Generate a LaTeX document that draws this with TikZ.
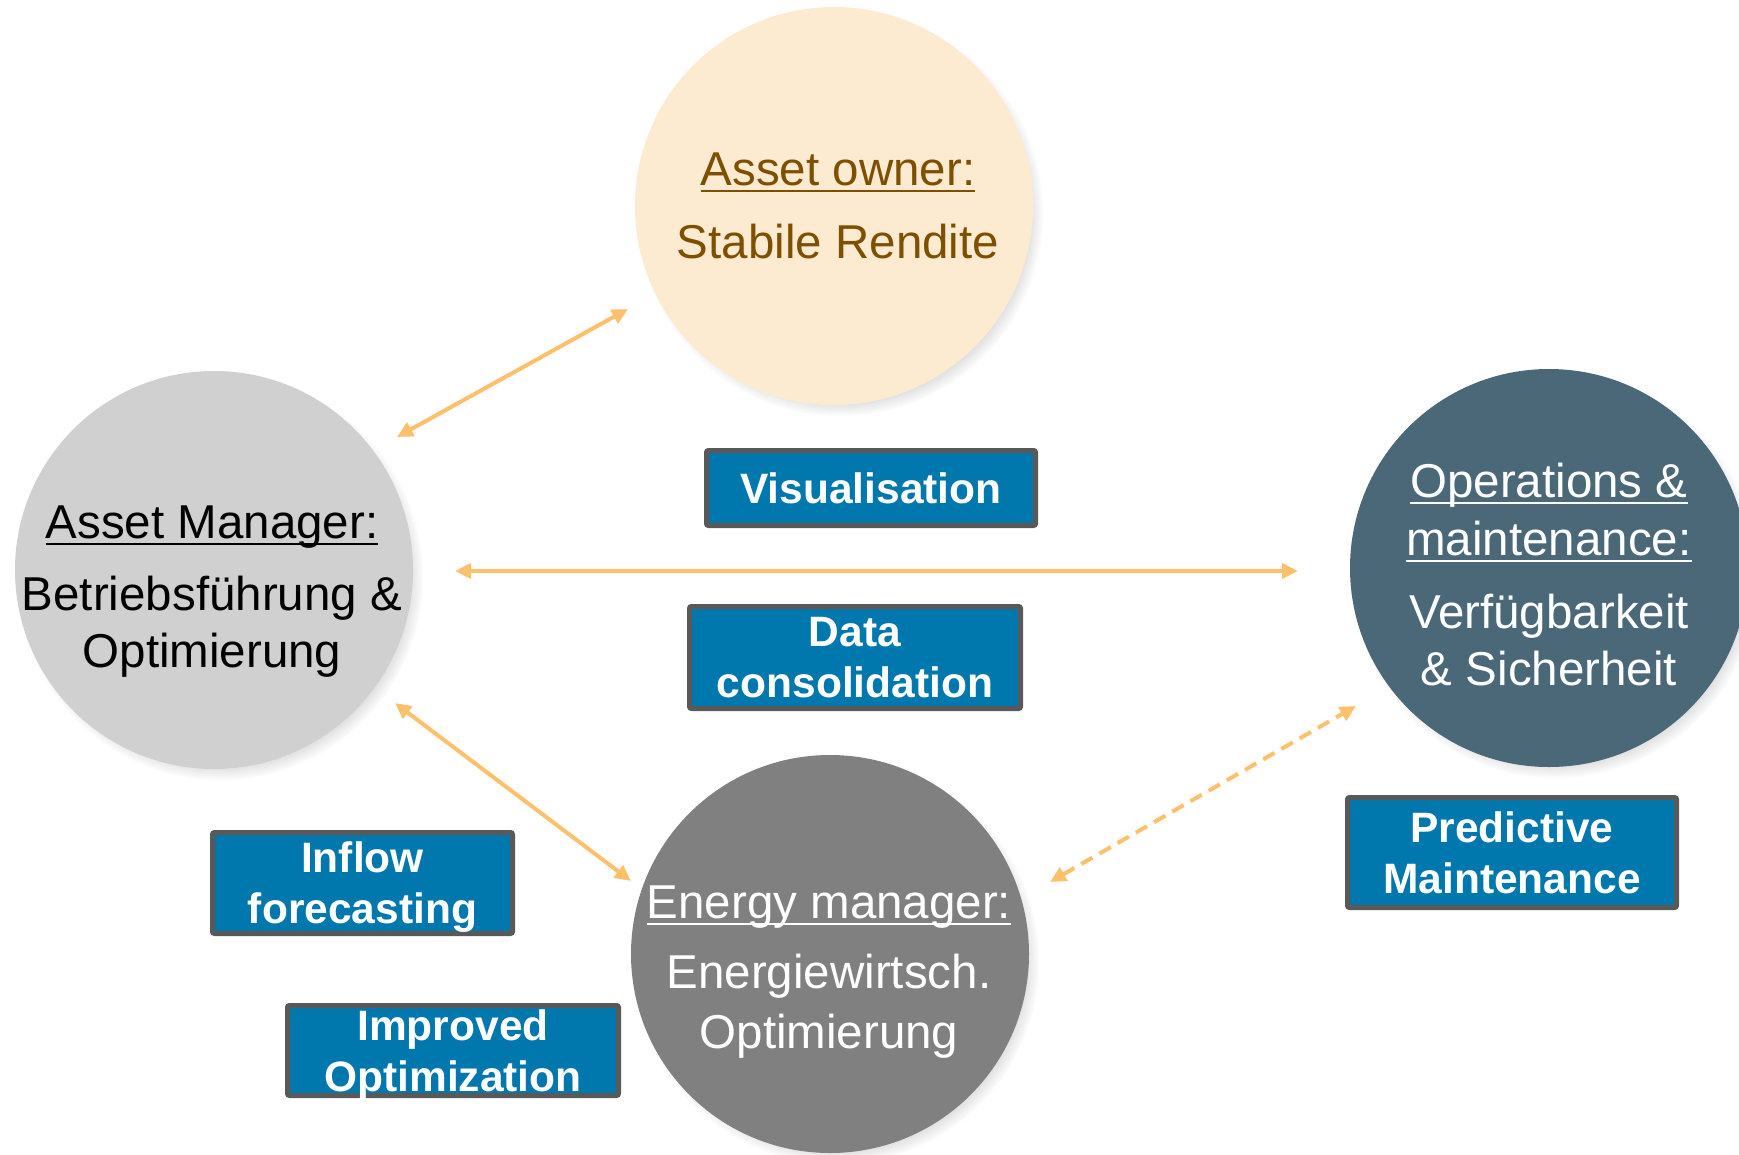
\documentclass[tikz,border=0pt]{standalone}
\usepackage{fontspec}
\setmainfont{Liberation Sans}
\usetikzlibrary{arrows.meta,shadows,calc}

\definecolor{ownerfill}{HTML}{FDEBD1}
\definecolor{ownertext}{HTML}{7F4F00}
\definecolor{mgrfill}{HTML}{D0D0D0}
\definecolor{omfill}{HTML}{4B6878}
\definecolor{emfill}{HTML}{808080}
\definecolor{boxfill}{HTML}{0077AD}
\definecolor{boxline}{HTML}{595959}
\definecolor{linkc}{HTML}{FFC06B}

% underlined role heading: the rule runs through the descenders
\newcommand\rolehead[1]{\setbox0\hbox{#1}\rlap{\rule[-7pt]{\wd0}{2.5pt}}\box0}

\begin{document}
\begin{tikzpicture}[x=1pt,y=-1pt,
  role/.style={circle, inner sep=0pt, minimum size=398pt,
    circular drop shadow={shadow scale=1.02, shadow xshift=6pt, shadow yshift=-7pt, opacity=0.5}},
  roletext/.style={anchor=base, inner sep=0pt, font=\fontsize{47.5}{57}\selectfont},
  tool/.style={draw=boxline, line width=5pt, fill=boxfill, rounded corners=2pt,
    text=white, font=\fontsize{42.5}{51}\selectfont\bfseries, align=center,
    inner sep=0pt, text depth=0pt},
  relation/.style={draw=linkc, line width=4pt,
    {Triangle[length=16pt,width=15pt]}-{Triangle[length=16pt,width=15pt]}},
]
\useasboundingbox (0,0) rectangle (1739,1154);
\fill[white] (0,0) rectangle (1739,1154);

% roles
\node[role, fill=ownerfill] (ao) at (834,206) {};
\node[role, fill=mgrfill]   (am) at (214,570) {};
\node[role, fill=omfill]    (om) at (1549,568) {};
\node[role, fill=emfill]    (em) at (830,954) {};

\node[roletext, text=ownertext] (ao-h) at (838,185) {\rolehead{Asset owner:}};
\node[roletext, text=ownertext] (ao-b) at (838,258) {Stabile Rendite};

\node[roletext, text=black] (am-h)  at (212,538) {\rolehead{Asset Manager:}};
\node[roletext, text=black] (am-b1) at (212,610) {Betriebsführung \&};
\node[roletext, text=black] (am-b2) at (212,667) {Optimierung};

\node[roletext, text=white] (om-h1) at (1549,497) {\rolehead{Operations \&}};
\node[roletext, text=white] (om-h2) at (1549,555) {\rolehead{maintenance:}};
\node[roletext, text=white] (om-b1) at (1549,628) {Verfügbarkeit};
\node[roletext, text=white] (om-b2) at (1549,685) {\& Sicherheit};

\node[roletext, text=white] (em-h)  at (829,918) {\rolehead{Energy manager:}};
\node[roletext, text=white] (em-b1) at (829,988) {Energiewirtsch.};
\node[roletext, text=white] (em-b2) at (829,1048) {Optimierung};

% relations between roles
\draw[relation] ($(am)+(183,-133)$) -- ($(ao)+(-206,103)$);
\draw[relation] ($(am)+(241,1)$) -- ($(om)+(-251,3)$);
\draw[relation] ($(am)+(181,133)$) -- ($(em)+(-199,-73)$);
\draw[relation, dash pattern=on 13pt off 8pt] ($(em)+(220,-72)$) -- ($(om)+(-193,138)$);

% tools
\node[tool, minimum width=329pt, minimum height=75pt]  (vis)  at (871,488)    {Visualisation};
\node[tool, minimum width=331pt, minimum height=102pt] (data) at (855,657.5)  {Data\\consolidation};
\node[tool, minimum width=300pt, minimum height=101pt] (inflow) at (362.5,883) {Inflow\\forecasting};
\node[tool, minimum width=331pt, minimum height=90pt]  (impr) at (453,1050.5) {Improved\\Optimization};
\node[tool, minimum width=329pt, minimum height=110pt] (pred) at (1512,852.5) {Predictive\\Maintenance};
\end{tikzpicture}
\end{document}
